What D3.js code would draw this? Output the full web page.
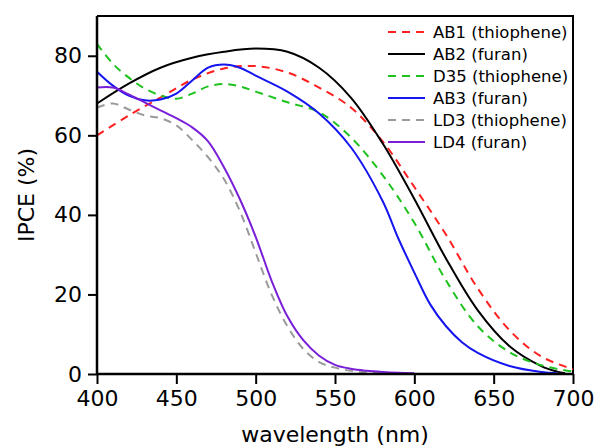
<!DOCTYPE html>
<html>
<head>
<meta charset="utf-8">
<script src="https://cdn.jsdelivr.net/npm/d3@7"></script>
<style>
  body { margin: 0; background: #fff; }
  text { font-family: "DejaVu Sans", sans-serif; fill: #000; }
</style>
</head>
<body>
<div id="chart"></div>
<script>
var width = 599, height = 448;
var margin = { top: 16, right: 26, bottom: 74, left: 97 };

// wavelength (nm) -> IPCE (%)
var ab1 = [[400,60],[420,65],[440,69.5],[460,74],[480,76.8],[500,77.4],[520,75.8],[540,72],[560,67],[580,58.5],[600,47],[620,35],[640,21.5],[660,11],[680,4.4],[700,1.2]];
var ab2 = [[400,68],[420,73],[440,77],[460,79.5],[480,81],[500,81.8],[520,81],[540,77],[560,69.5],[580,58],[600,44],[620,29],[640,16],[660,7],[680,2],[690,0.6],[695,0.2]];
var d35 = [[400,83],[410,78],[420,74.5],[430,71.8],[440,70],[450,69.2],[460,70.5],[470,72.3],[480,72.9],[490,72.3],[500,71],[520,68.3],[540,65.8],[560,59.5],[580,50],[600,38],[620,23.5],[640,12],[660,5.5],[680,2.2],[700,0.6]];
var ab3 = [[400,76],[410,72.5],[420,70],[430,68.8],[440,69],[450,70.5],[460,73.8],[470,77],[480,77.8],[490,77],[500,75],[520,71],[540,65.5],[560,57],[580,43.5],[590,34],[600,25.5],[610,17.5],[620,12],[630,8],[640,5.3],[660,2],[680,0.5],[690,0.2]];
var ld3 = [[400,67],[410,68],[420,66.5],[430,65],[440,64.3],[450,62.5],[460,58.8],[470,54.5],[480,49],[490,41],[500,30.5],[510,20],[520,12],[530,6.3],[540,3],[550,1.6],[560,0.8],[570,0.4],[580,0.2]];
var ld4 = [[400,72],[410,72],[420,70.3],[430,68.3],[440,66.3],[450,64.3],[460,62],[470,58.5],[480,52],[490,44],[500,34.5],[510,23.5],[520,14.5],[530,8.5],[540,4.6],[550,2.3],[560,1.3],[570,0.8],[580,0.5],[590,0.3],[600,0.2]];

var names = ["AB1 (thiophene)", "AB2 (furan)", "D35 (thiophene)", "AB3 (furan)", "LD3 (thiophene)", "LD4 (furan)"];
var colors = ["#ff2020", "#000000", "#1ec21e", "#1515f0", "#9a9a9a", "#7a1fd8"];
var dashed = [true, false, true, false, true, false];
var xTicks = [400, 450, 500, 550, 600, 650, 700];
var yTicks = [0, 20, 40, 60, 80];

var series = [ab1, ab2, d35, ab3, ld3, ld4];

var svg = d3.select("#chart").append("svg")
  .attr("width", width)
  .attr("height", height);

var x = d3.scaleLinear().domain([400, 700]).range([margin.left, width - margin.right]);
var y = d3.scaleLinear().domain([0, 90]).range([height - margin.bottom, margin.top]);

// frame top/right
svg.append("path")
  .attr("d", "M" + x(400) + "," + y(90) + "H" + x(700) + "V" + y(0))
  .attr("fill", "none")
  .attr("stroke", "#000")
  .attr("stroke-width", 2);

var line = d3.line()
  .x(function(d){ return x(d[0]); })
  .y(function(d){ return y(d[1]); })
  .curve(d3.curveCatmullRom.alpha(0.5));

var plot = svg.append("g");
series.forEach(function(s, i){
  plot.append("path")
    .datum(s)
    .attr("d", line)
    .attr("fill", "none")
    .attr("stroke", colors[i])
    .attr("stroke-width", 2)
    .attr("stroke-dasharray", dashed[i] ? "8,6" : null);
});

var xAxis = svg.append("g")
  .attr("transform", "translate(0," + y(0) + ")")
  .call(d3.axisBottom(x).tickValues(xTicks).tickSize(10).tickPadding(6).tickFormat(d3.format("d")));
var yAxis = svg.append("g")
  .attr("transform", "translate(" + x(400) + ",0)")
  .call(d3.axisLeft(y).tickValues(yTicks).tickSize(9).tickPadding(6));

[xAxis, yAxis].forEach(function(a){
  a.select(".domain").attr("stroke-width", 2.5).attr("d", a === xAxis
    ? "M" + x(400) + ",0H" + x(700)
    : "M0," + y(0) + "V" + y(90));
  a.selectAll(".tick line").attr("stroke-width", 2);
  a.selectAll(".tick text").style("font-family", "DejaVu Sans, sans-serif").style("font-size", "22px");
});

svg.append("text")
  .attr("x", (x(400) + x(700)) / 2)
  .attr("y", 442)
  .attr("text-anchor", "middle")
  .style("font-size", "22px")
  .text("wavelength (nm)");

svg.append("text")
  .attr("transform", "translate(34," + (y(0) + y(90)) / 2 + ") rotate(-90)")
  .attr("text-anchor", "middle")
  .style("font-size", "22px")
  .text("IPCE (%)");

// legend
var legend = svg.append("g");
names.forEach(function(n, i){
  var ly = 32 + i * 22;
  legend.append("line")
    .attr("x1", 388).attr("x2", 425)
    .attr("y1", ly).attr("y2", ly)
    .attr("stroke", colors[i])
    .attr("stroke-width", 2)
    .attr("stroke-dasharray", dashed[i] ? "8,6" : null);
  legend.append("text")
    .attr("x", 433)
    .attr("y", ly)
    .attr("dy", "0.36em")
    .style("font-size", "16.5px")
    .text(n);
});
</script>
</body>
</html>
